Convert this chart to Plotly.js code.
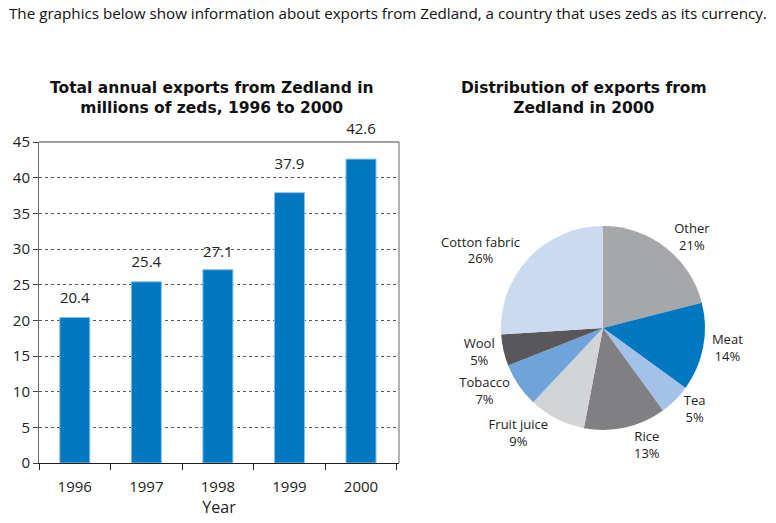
<!DOCTYPE html>
<html>
<head>
<meta charset="utf-8">
<script src="https://cdn.plot.ly/plotly-3.0.1.min.js"></script>
<style>html,body{margin:0;padding:0;background:#fff;}#chart{width:776px;height:523px;}</style>
</head>
<body>
<div id="chart"></div>
<script>
const years = ['1996', '1997', '1998', '1999', '2000'];
const exportsMillions = [20.4, 25.4, 27.1, 37.9, 42.6];
const yTicks = [0, 5, 10, 15, 20, 25, 30, 35, 40, 45];

const categories = ['Other', 'Meat', 'Tea', 'Rice', 'Fruit juice', 'Tobacco', 'Wool', 'Cotton fabric'];
const shares = [21, 14, 5, 13, 9, 7, 5, 26];
const sliceColors = ['#a6a7aa', '#0078c1', '#a3c1e9', '#808083', '#d3d4d6', '#6fa3d9', '#58585b', '#cadaf1'];

const bodyFont = 'Open Sans, Noto Sans, sans-serif';
const titleFont = 'DejaVu Sans, sans-serif';

const barTrace = {
  type: 'bar',
  x: years,
  y: exportsMillions,
  width: 0.42,
  marker: {color: '#0078c1', line: {color: '#8cc0ea', width: 1}},
  xaxis: 'x', yaxis: 'y',
  hoverinfo: 'none'
};

const labelTrace = {
  type: 'scatter',
  mode: 'markers+text',
  x: years,
  y: exportsMillions,
  text: exportsMillions.map(v => v.toFixed(1)),
  textposition: 'top center',
  marker: {size: [16, 16, 12, 30, 32], opacity: 0, color: '#fff'},
  textfont: {family: bodyFont, size: 15, color: '#222'},
  cliponaxis: false,
  xaxis: 'x', yaxis: 'y',
  hoverinfo: 'none'
};

const pieTrace = {
  type: 'pie',
  labels: categories,
  values: shares,
  sort: false,
  direction: 'clockwise',
  rotation: 0,
  marker: {colors: sliceColors, line: {color: '#ffffff', width: 0}},
  textposition: 'outside',
  texttemplate: '%{label}<br>%{value}%',
  textfont: {family: bodyFont, size: 13, color: '#222'},
  domain: {x: [501/776, 705/776], y: [93/523, 297/523]},
  showlegend: false,
  hoverinfo: 'none'
};

const layout = {
  width: 776, height: 523,
  margin: {l: 0, r: 0, t: 0, b: 0},
  paper_bgcolor: '#fff', plot_bgcolor: '#fff',
  showlegend: false,
  xaxis: {
    domain: [39/776, 399/776],
    type: 'category',
    showline: true, linecolor: '#222', linewidth: 1, mirror: false,
    ticks: 'outside', tickson: 'boundaries', ticklen: 6, tickcolor: '#222',
    ticklabelstandoff: 10,
    tickfont: {family: bodyFont, size: 15, color: '#222'},
    title: {text: 'Year', font: {family: bodyFont, size: 16, color: '#222'}, standoff: 4},
    fixedrange: true
  },
  yaxis: {
    domain: [60/523, 381/523],
    range: [0, 45],
    tickvals: yTicks,
    showline: true, linecolor: '#666', linewidth: 1,
    ticks: 'outside', ticklen: 5, tickcolor: '#444',
    showgrid: true, gridcolor: '#555', griddash: 'dot', gridwidth: 1,
    tickfont: {family: bodyFont, size: 15, color: '#222'},
    zeroline: false,
    fixedrange: true
  },
  shapes: [
    {type: 'line', xref: 'paper', yref: 'paper', x0: 39/776, x1: 399/776, y0: 381/523, y1: 381/523, line: {color: '#444', width: 1}},
    {type: 'line', xref: 'paper', yref: 'paper', x0: 399/776, x1: 399/776, y0: 60/523, y1: 381/523, line: {color: '#666', width: 1}}
  ],
  annotations: [
    {xref: 'paper', yref: 'paper', x: 7/776, y: 1 - 13/523, xanchor: 'left', yanchor: 'middle', showarrow: false,
     text: 'The graphics below show information about exports from Zedland, a country that uses zeds as its currency.',
     font: {family: bodyFont, size: 15.2, color: '#111'}},
    {xref: 'paper', yref: 'paper', x: 212/776, y: 1 - 98/523, xanchor: 'center', yanchor: 'middle', showarrow: false,
     text: '<b>Total annual exports from Zedland in<br>millions of zeds, 1996 to 2000</b>',
     font: {family: titleFont, size: 15.5, color: '#111'}},
    {xref: 'paper', yref: 'paper', x: 584/776, y: 1 - 98/523, xanchor: 'center', yanchor: 'middle', showarrow: false,
     text: '<b>Distribution of exports from<br>Zedland in 2000</b>',
     font: {family: titleFont, size: 15.5, color: '#111'}}
  ]
};

Plotly.newPlot('chart', [barTrace, labelTrace, pieTrace], layout, {displayModeBar: false, staticPlot: true});
</script>
</body>
</html>
